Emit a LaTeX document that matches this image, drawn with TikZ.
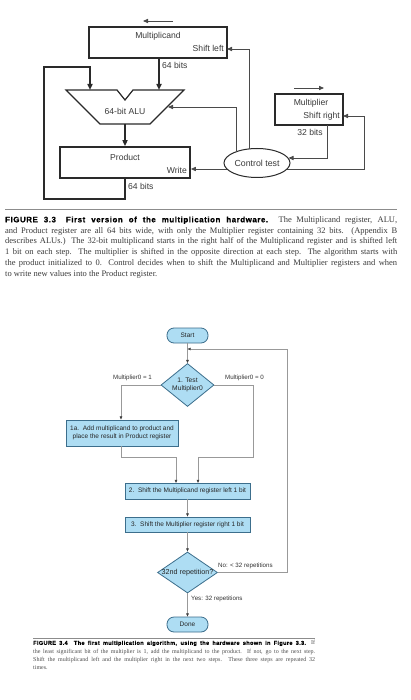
\documentclass[tikz,border=0pt]{standalone}
\usepackage{fontspec}
\setmainfont{Liberation Serif}
\setsansfont{Liberation Sans}
\newfontfamily\hdA{Liberation Sans}[LetterSpace=7, FakeBold=0.7]
\newfontfamily\hdB{Liberation Sans}[LetterSpace=6, FakeBold=0.6]
\usetikzlibrary{arrows.meta,shapes.geometric}
\definecolor{fbfill}{HTML}{AEDDF3}
\definecolor{fbedge}{HTML}{3C6E8C}
\definecolor{dline}{HTML}{2A2A2A}
\definecolor{txt}{HTML}{3A3A3A}
\tikzset{
  reg/.style={draw=dline, line width=1.7pt, inner sep=0pt},
  lbl/.style={font=\sffamily\fontsize{8.6}{10}\selectfont, text=txt, inner sep=0pt},
  data/.style={draw=dline, line width=1.6pt, -{Triangle[length=6pt,width=5pt]}},
  ctl/.style={draw=dline!85, line width=0.9pt, -{Triangle[length=5pt,width=4.2pt]}},
  alushape/.style={draw=dline, line width=1.2pt},
  fbox/.style={draw=fbedge, fill=fbfill, line width=0.8pt, inner sep=0pt, font=\sffamily\fontsize{6.5}{7.6}\selectfont, text=black!85},
  fterm/.style={fbox, rounded corners=7pt},
  fdia/.style={fbox, diamond, aspect=1.25},
  ftxt/.style={font=\sffamily\fontsize{6.7}{7.8}\selectfont, text=black!85, inner sep=0pt},
  flbl/.style={font=\sffamily\fontsize{6.2}{7}\selectfont, text=black!80, inner sep=0pt},
  fline/.style={draw=black!40, line width=0.6pt, -{Triangle[length=3.2pt,width=2.6pt,color=black!75]}},
  rule/.style={draw=black!45, line width=0.8pt}
}
\begin{document}
\begin{tikzpicture}[x=1pt,y=-1pt]
\useasboundingbox (0,0) rectangle (410,700);
\fill[white] (0,0) rectangle (410,700);

% ---------------- Figure 3.3 hardware ----------------
\node[reg, minimum width=138pt, minimum height=31pt] (mcand) at (158,42.5) {};
\node[lbl] (mcandt) at (158,36) {Multiplicand};
\node[lbl, anchor=east] (shl) at (224,48.5) {Shift left};
\coordinate (sla) at (173,21);
\coordinate (slb) at (143,21);
\draw[ctl] (sla) -- (slb);

\draw[alushape] (66,90) -- (117,90) -- (125,100) -- (133,90) -- (184,90) -- (150,124) -- (100,124) -- cycle;
\node[lbl] (alut) at (125,111) {64-bit ALU};
\coordinate (aluL) at (90,90);
\coordinate (aluR) at (159,90);
\coordinate (aluC) at (168,107);
\coordinate (aluB) at (125,124);

\node[reg, minimum width=130pt, minimum height=31pt] (prod) at (125,162.5) {};
\node[lbl] (prodt) at (125,157) {Product};
\node[lbl, anchor=east] (wr) at (187,170) {Write};

\draw[data] (aluR |- mcand.south) -- (aluR);
\node[lbl, anchor=west] (b64a) at (162,65) {64 bits};
\draw[data] (aluB) -- (prod.north);
\node[lbl, anchor=west] (b64b) at (128,186) {64 bits};
\coordinate (lp1) at (44,199);
\coordinate (lp2) at (44,67);
\draw[data] (prod.south) |- (lp1) -- (lp2) -| (aluL);

\node[draw=dline, ellipse, line width=1pt, minimum width=66pt, minimum height=29pt, inner sep=0pt,
      font=\sffamily\fontsize{8.8}{10}\selectfont, text=txt] (ctrl) at (257,163) {Control test};

\coordinate (c1) at (236,152);
\draw[ctl] (c1) |- (aluC);
\coordinate (c2) at (249,149.5);
\coordinate (mcIn) at (227,49);
\draw[ctl] (c2) |- (mcIn);
\coordinate (c3) at (227,169);
\draw[ctl] (c3) -- (prod.east |- c3);

\node[reg, minimum width=68pt, minimum height=31pt] (mplier) at (309,109.5) {};
\node[lbl] (mplt) at (311,103) {Multiplier};
\node[lbl, anchor=east] (shr) at (340,116) {Shift right};
\coordinate (sra) at (294,88);
\coordinate (srb) at (324,88);
\draw[ctl] (sra) -- (srb);
\coordinate (m1) at (327,125);
\coordinate (c4) at (288.5,158);
\draw[ctl] (m1) |- (c4);
\node[lbl] (b32) at (310,132) {32 bits};
\coordinate (c5) at (287,169);
\coordinate (rr) at (364,169);
\coordinate (mIn) at (343,116);
\draw[ctl] (c5) -- (rr) |- (mIn);

% ---------------- Caption 3.3 ----------------
\coordinate (r1a) at (5,209);
\coordinate (r1b) at (397,209);
\draw[rule] (r1a) -- (r1b);
\node[anchor=north west, inner sep=0pt, align=left, text=txt,
      font=\rmfamily\fontsize{8.5}{10.8}\selectfont] (cap33) at (5,216.2) {%
\makebox[392pt][s]{{\hdA\bfseries\color{black}\fontsize{7.9}{10.8}\selectfont FIGURE 3.3\hspace{4pt} First version of the multiplication hardware.} The Multiplicand register, ALU,}\\
\makebox[392pt][s]{and Product register are all 64 bits wide, with only the Multiplier register containing 32 bits. (Appendix B}\\
\makebox[392pt][s]{describes ALUs.) The 32-bit multiplicand starts in the right half of the Multiplicand register and is shifted left}\\
\makebox[392pt][s]{1 bit on each step. The multiplier is shifted in the opposite direction at each step. The algorithm starts with}\\
\makebox[392pt][s]{the product initialized to 0. Control decides when to shift the Multiplicand and Multiplier registers and when}\\
to write new values into the Product register.};

% ---------------- Figure 3.4 flowchart ----------------
\node[fterm, minimum width=41pt, minimum height=15pt] (start) at (187.5,335.5) {Start};
\node[fdia, minimum width=53pt, minimum height=43pt] (test) at (187.5,385) {};
\node[ftxt, align=center] (testt) at (187.5,385) {1. Test\\Multiplier0};
\node[fbox, minimum width=112pt, minimum height=26pt, align=center] (s1a) at (122,433) {1a.\ \ Add multiplicand to product and\\place the result in Product register};
\node[fbox, minimum width=125pt, minimum height=16pt] (s2) at (187.5,491) {2.\ \ Shift the Multiplicand register left 1 bit};
\node[fbox, minimum width=125pt, minimum height=15pt] (s3) at (187.5,524.5) {3.\ \ Shift the Multiplier register right 1 bit};
\node[fdia, minimum width=60pt, minimum height=41pt] (rep) at (187.5,572.5) {};
\node[ftxt, font=\sffamily\fontsize{7.2}{8}\selectfont] (rept) at (187.5,572.5) {32nd repetition?};
\node[fterm, minimum width=41pt, minimum height=15pt] (done) at (187.5,624.5) {Done};

\node[flbl] (l1) at (132.5,378) {Multiplier0 = 1};
\node[flbl] (l0) at (244.5,378) {Multiplier0 = 0};
\node[flbl, anchor=west] (lno) at (218,566) {No: < 32 repetitions};
\node[flbl, anchor=west] (lyes) at (191,599) {Yes: 32 repetitions};

\coordinate (jn) at (187.5,349);
\coordinate (lpR) at (287,349);
\coordinate (lbr) at (121,385);
\coordinate (rbr) at (253,385);
\coordinate (rj) at (253,457);
\coordinate (in2r) at (198,483);
\coordinate (lj) at (121,457);
\coordinate (in2l) at (176,483);

\draw[fline] (start) -- (test);
\draw[fline] (rep.east) -| (lpR) -- (jn);
\draw[fline] (test.west) -- (lbr) -- (s1a.north -| lbr);
\draw[fline] (test.east) -- (rbr) -- (rj) -| (in2r);
\draw[fline] (s1a.south -| lj) -- (lj) -| (in2l);
\draw[fline] (s2) -- (s3);
\draw[fline] (s3) -- (rep);
\draw[fline] (rep) -- (done);

% ---------------- Caption 3.4 ----------------
\coordinate (r2a) at (33,638);
\coordinate (r2b) at (315,638);
\draw[rule] (r2a) -- (r2b);
\node[anchor=north west, inner sep=0pt, align=left, text=txt!90,
      font=\rmfamily\fontsize{6.0}{8.3}\selectfont] (cap34) at (33,640.4) {%
\makebox[282pt][s]{{\hdB\bfseries\color{black}\fontsize{5.6}{8.3}\selectfont FIGURE 3.4\hspace{3pt} The first multiplication algorithm, using the hardware shown in Figure 3.3.} If}\\
\makebox[282pt][s]{the least significant bit of the multiplier is 1, add the multiplicand to the product. If not, go to the next step.}\\
\makebox[282pt][s]{Shift the multiplicand left and the multiplier right in the next two steps. These three steps are repeated 32}\\
times.};
\end{tikzpicture}
\end{document}
